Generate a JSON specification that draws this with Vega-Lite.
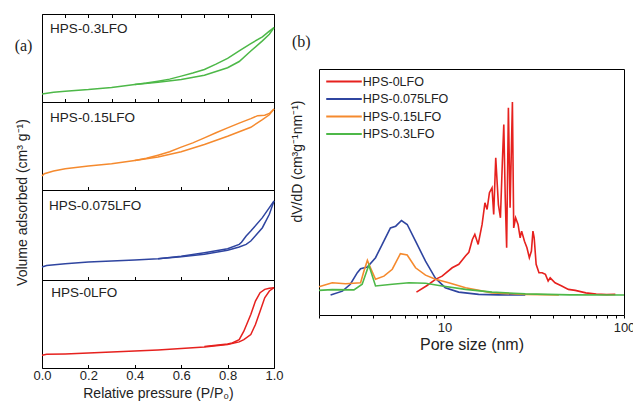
{
  "$schema": "https://vega.github.io/schema/vega-lite/v6.json",
  "padding": {"left": 13, "top": 13, "right": 5, "bottom": 0},
  "spacing": 5,
  "resolve": {"scale": {"color": "independent"}, "legend": {"color": "independent"}},
  "config": {
    "view": {"stroke": "black", "strokeWidth": 1},
    "font": "Liberation Sans",
    "axis": {"labelFont": "Liberation Sans", "titleFont": "Liberation Sans", "labelColor": "#222", "titleColor": "#222", "titleFontWeight": "normal", "tickColor": "black", "grid": false, "domain": false, "labelFlush": false}
  },
  "datasets": {
    "iso": [
      {"sample": "HPS-0.3LFO", "branch": "ads", "p": 0, "v": 9.2},
      {"sample": "HPS-0.3LFO", "branch": "ads", "p": 0.05, "v": 11},
      {"sample": "HPS-0.3LFO", "branch": "ads", "p": 0.1, "v": 12.3},
      {"sample": "HPS-0.3LFO", "branch": "ads", "p": 0.2, "v": 14.1},
      {"sample": "HPS-0.3LFO", "branch": "ads", "p": 0.3, "v": 16.5},
      {"sample": "HPS-0.3LFO", "branch": "ads", "p": 0.4, "v": 19.8},
      {"sample": "HPS-0.3LFO", "branch": "ads", "p": 0.5, "v": 22.5},
      {"sample": "HPS-0.3LFO", "branch": "ads", "p": 0.6, "v": 25.6},
      {"sample": "HPS-0.3LFO", "branch": "ads", "p": 0.7, "v": 30.5},
      {"sample": "HPS-0.3LFO", "branch": "ads", "p": 0.8, "v": 38.9},
      {"sample": "HPS-0.3LFO", "branch": "ads", "p": 0.85, "v": 46},
      {"sample": "HPS-0.3LFO", "branch": "ads", "p": 0.9, "v": 58},
      {"sample": "HPS-0.3LFO", "branch": "ads", "p": 0.95, "v": 69.5},
      {"sample": "HPS-0.3LFO", "branch": "ads", "p": 0.98, "v": 77},
      {"sample": "HPS-0.3LFO", "branch": "ads", "p": 1.0, "v": 84.7},
      {"sample": "HPS-0.3LFO", "branch": "des", "p": 0.4, "v": 19.8},
      {"sample": "HPS-0.3LFO", "branch": "des", "p": 0.45, "v": 21.5},
      {"sample": "HPS-0.3LFO", "branch": "des", "p": 0.5, "v": 23.7},
      {"sample": "HPS-0.3LFO", "branch": "des", "p": 0.55, "v": 26},
      {"sample": "HPS-0.3LFO", "branch": "des", "p": 0.6, "v": 29.4},
      {"sample": "HPS-0.3LFO", "branch": "des", "p": 0.65, "v": 33},
      {"sample": "HPS-0.3LFO", "branch": "des", "p": 0.7, "v": 37},
      {"sample": "HPS-0.3LFO", "branch": "des", "p": 0.75, "v": 43},
      {"sample": "HPS-0.3LFO", "branch": "des", "p": 0.8, "v": 49.6},
      {"sample": "HPS-0.3LFO", "branch": "des", "p": 0.85, "v": 58},
      {"sample": "HPS-0.3LFO", "branch": "des", "p": 0.9, "v": 66.4},
      {"sample": "HPS-0.3LFO", "branch": "des", "p": 0.95, "v": 74},
      {"sample": "HPS-0.3LFO", "branch": "des", "p": 0.98, "v": 80.5},
      {"sample": "HPS-0.3LFO", "branch": "des", "p": 1.0, "v": 84.7},

      {"sample": "HPS-0.15LFO", "branch": "ads", "p": 0, "v": 15.8},
      {"sample": "HPS-0.15LFO", "branch": "ads", "p": 0.01, "v": 18.5},
      {"sample": "HPS-0.15LFO", "branch": "ads", "p": 0.05, "v": 21.5},
      {"sample": "HPS-0.15LFO", "branch": "ads", "p": 0.1, "v": 24.2},
      {"sample": "HPS-0.15LFO", "branch": "ads", "p": 0.2, "v": 27.2},
      {"sample": "HPS-0.15LFO", "branch": "ads", "p": 0.3, "v": 29.8},
      {"sample": "HPS-0.15LFO", "branch": "ads", "p": 0.4, "v": 33.6},
      {"sample": "HPS-0.15LFO", "branch": "ads", "p": 0.5, "v": 37.4},
      {"sample": "HPS-0.15LFO", "branch": "ads", "p": 0.6, "v": 43.4},
      {"sample": "HPS-0.15LFO", "branch": "ads", "p": 0.7, "v": 51.7},
      {"sample": "HPS-0.15LFO", "branch": "ads", "p": 0.8, "v": 61.1},
      {"sample": "HPS-0.15LFO", "branch": "ads", "p": 0.9, "v": 71.3},
      {"sample": "HPS-0.15LFO", "branch": "ads", "p": 0.95, "v": 80},
      {"sample": "HPS-0.15LFO", "branch": "ads", "p": 0.98, "v": 85.5},
      {"sample": "HPS-0.15LFO", "branch": "ads", "p": 1.0, "v": 92.1},
      {"sample": "HPS-0.15LFO", "branch": "des", "p": 0.4, "v": 33.6},
      {"sample": "HPS-0.15LFO", "branch": "des", "p": 0.45, "v": 36},
      {"sample": "HPS-0.15LFO", "branch": "des", "p": 0.5, "v": 39.6},
      {"sample": "HPS-0.15LFO", "branch": "des", "p": 0.55, "v": 43.5},
      {"sample": "HPS-0.15LFO", "branch": "des", "p": 0.6, "v": 48.7},
      {"sample": "HPS-0.15LFO", "branch": "des", "p": 0.65, "v": 53.5},
      {"sample": "HPS-0.15LFO", "branch": "des", "p": 0.7, "v": 59.2},
      {"sample": "HPS-0.15LFO", "branch": "des", "p": 0.75, "v": 65},
      {"sample": "HPS-0.15LFO", "branch": "des", "p": 0.8, "v": 70.6},
      {"sample": "HPS-0.15LFO", "branch": "des", "p": 0.85, "v": 76},
      {"sample": "HPS-0.15LFO", "branch": "des", "p": 0.9, "v": 81.1},
      {"sample": "HPS-0.15LFO", "branch": "des", "p": 0.93, "v": 84.5},
      {"sample": "HPS-0.15LFO", "branch": "des", "p": 0.96, "v": 85},
      {"sample": "HPS-0.15LFO", "branch": "des", "p": 0.98, "v": 87},
      {"sample": "HPS-0.15LFO", "branch": "des", "p": 1.0, "v": 92.1},

      {"sample": "HPS-0.075LFO", "branch": "ads", "p": 0, "v": 14.4},
      {"sample": "HPS-0.075LFO", "branch": "ads", "p": 0.02, "v": 16},
      {"sample": "HPS-0.075LFO", "branch": "ads", "p": 0.1, "v": 18.1},
      {"sample": "HPS-0.075LFO", "branch": "ads", "p": 0.2, "v": 20},
      {"sample": "HPS-0.075LFO", "branch": "ads", "p": 0.3, "v": 21.1},
      {"sample": "HPS-0.075LFO", "branch": "ads", "p": 0.4, "v": 22.2},
      {"sample": "HPS-0.075LFO", "branch": "ads", "p": 0.5, "v": 23.7},
      {"sample": "HPS-0.075LFO", "branch": "ads", "p": 0.6, "v": 25.9},
      {"sample": "HPS-0.075LFO", "branch": "ads", "p": 0.7, "v": 28.5},
      {"sample": "HPS-0.075LFO", "branch": "ads", "p": 0.8, "v": 33},
      {"sample": "HPS-0.075LFO", "branch": "ads", "p": 0.85, "v": 36.7},
      {"sample": "HPS-0.075LFO", "branch": "ads", "p": 0.88, "v": 39.6},
      {"sample": "HPS-0.075LFO", "branch": "ads", "p": 0.9, "v": 43.3},
      {"sample": "HPS-0.075LFO", "branch": "ads", "p": 0.95, "v": 58.1},
      {"sample": "HPS-0.075LFO", "branch": "ads", "p": 0.98, "v": 73},
      {"sample": "HPS-0.075LFO", "branch": "ads", "p": 1.0, "v": 87.8},
      {"sample": "HPS-0.075LFO", "branch": "des", "p": 0.5, "v": 23.7},
      {"sample": "HPS-0.075LFO", "branch": "des", "p": 0.6, "v": 26.5},
      {"sample": "HPS-0.075LFO", "branch": "des", "p": 0.7, "v": 30.4},
      {"sample": "HPS-0.075LFO", "branch": "des", "p": 0.8, "v": 34.8},
      {"sample": "HPS-0.075LFO", "branch": "des", "p": 0.85, "v": 39.6},
      {"sample": "HPS-0.075LFO", "branch": "des", "p": 0.86, "v": 42},
      {"sample": "HPS-0.075LFO", "branch": "des", "p": 0.88, "v": 48.9},
      {"sample": "HPS-0.075LFO", "branch": "des", "p": 0.9, "v": 54.4},
      {"sample": "HPS-0.075LFO", "branch": "des", "p": 0.95, "v": 69.3},
      {"sample": "HPS-0.075LFO", "branch": "des", "p": 0.98, "v": 80.4},
      {"sample": "HPS-0.075LFO", "branch": "des", "p": 1.0, "v": 87.8},

      {"sample": "HPS-0LFO", "branch": "ads", "p": 0, "v": 14.4},
      {"sample": "HPS-0LFO", "branch": "ads", "p": 0.02, "v": 15.5},
      {"sample": "HPS-0LFO", "branch": "ads", "p": 0.1, "v": 16},
      {"sample": "HPS-0LFO", "branch": "ads", "p": 0.2, "v": 17.1},
      {"sample": "HPS-0LFO", "branch": "ads", "p": 0.3, "v": 18.3},
      {"sample": "HPS-0LFO", "branch": "ads", "p": 0.4, "v": 19.4},
      {"sample": "HPS-0LFO", "branch": "ads", "p": 0.5, "v": 20.5},
      {"sample": "HPS-0LFO", "branch": "ads", "p": 0.6, "v": 22.1},
      {"sample": "HPS-0LFO", "branch": "ads", "p": 0.7, "v": 24},
      {"sample": "HPS-0LFO", "branch": "ads", "p": 0.8, "v": 26.6},
      {"sample": "HPS-0LFO", "branch": "ads", "p": 0.85, "v": 29.7},
      {"sample": "HPS-0LFO", "branch": "ads", "p": 0.87, "v": 32.3},
      {"sample": "HPS-0LFO", "branch": "ads", "p": 0.9, "v": 38},
      {"sample": "HPS-0LFO", "branch": "ads", "p": 0.92, "v": 49.4},
      {"sample": "HPS-0LFO", "branch": "ads", "p": 0.94, "v": 64.6},
      {"sample": "HPS-0LFO", "branch": "ads", "p": 0.96, "v": 79.8},
      {"sample": "HPS-0LFO", "branch": "ads", "p": 0.98, "v": 87.5},
      {"sample": "HPS-0LFO", "branch": "ads", "p": 1.0, "v": 91.3},
      {"sample": "HPS-0LFO", "branch": "des", "p": 0.7, "v": 24.5},
      {"sample": "HPS-0LFO", "branch": "des", "p": 0.8, "v": 27.4},
      {"sample": "HPS-0LFO", "branch": "des", "p": 0.82, "v": 28.5},
      {"sample": "HPS-0LFO", "branch": "des", "p": 0.85, "v": 32.3},
      {"sample": "HPS-0LFO", "branch": "des", "p": 0.87, "v": 41.8},
      {"sample": "HPS-0LFO", "branch": "des", "p": 0.9, "v": 60.8},
      {"sample": "HPS-0LFO", "branch": "des", "p": 0.92, "v": 76},
      {"sample": "HPS-0LFO", "branch": "des", "p": 0.94, "v": 85.6},
      {"sample": "HPS-0LFO", "branch": "des", "p": 0.96, "v": 89.4},
      {"sample": "HPS-0LFO", "branch": "des", "p": 0.98, "v": 90.5},
      {"sample": "HPS-0LFO", "branch": "des", "p": 1.0, "v": 91.3}
    ],
    "psd": [
      {"sample": "HPS-0LFO", "d": 6.98, "y": 9.3},
      {"sample": "HPS-0LFO", "d": 8.0, "y": 12},
      {"sample": "HPS-0LFO", "d": 8.91, "y": 14.5},
      {"sample": "HPS-0LFO", "d": 9.7, "y": 15.8},
      {"sample": "HPS-0LFO", "d": 11.04, "y": 19.2},
      {"sample": "HPS-0LFO", "d": 12.02, "y": 20.6},
      {"sample": "HPS-0LFO", "d": 13.09, "y": 24},
      {"sample": "HPS-0LFO", "d": 13.67, "y": 25.5},
      {"sample": "HPS-0LFO", "d": 14.3, "y": 30.7},
      {"sample": "HPS-0LFO", "d": 14.76, "y": 32.8},
      {"sample": "HPS-0LFO", "d": 15.2, "y": 30},
      {"sample": "HPS-0LFO", "d": 15.4, "y": 28.7},
      {"sample": "HPS-0LFO", "d": 16.2, "y": 36.8},
      {"sample": "HPS-0LFO", "d": 16.8, "y": 45.6},
      {"sample": "HPS-0LFO", "d": 17.27, "y": 42.9},
      {"sample": "HPS-0LFO", "d": 17.8, "y": 49.7},
      {"sample": "HPS-0LFO", "d": 18.4, "y": 51.7},
      {"sample": "HPS-0LFO", "d": 18.8, "y": 40.9},
      {"sample": "HPS-0LFO", "d": 19.3, "y": 63.9},
      {"sample": "HPS-0LFO", "d": 19.97, "y": 44.9},
      {"sample": "HPS-0LFO", "d": 20.5, "y": 39.5},
      {"sample": "HPS-0LFO", "d": 21.0, "y": 61.8},
      {"sample": "HPS-0LFO", "d": 21.4, "y": 77.4},
      {"sample": "HPS-0LFO", "d": 21.8, "y": 47.6},
      {"sample": "HPS-0LFO", "d": 22.2, "y": 27.3},
      {"sample": "HPS-0LFO", "d": 22.7, "y": 84.2},
      {"sample": "HPS-0LFO", "d": 23.2, "y": 43.6},
      {"sample": "HPS-0LFO", "d": 23.9, "y": 86.6},
      {"sample": "HPS-0LFO", "d": 24.3, "y": 35.4},
      {"sample": "HPS-0LFO", "d": 24.9, "y": 39.5},
      {"sample": "HPS-0LFO", "d": 25.7, "y": 36.8},
      {"sample": "HPS-0LFO", "d": 26.4, "y": 31.4},
      {"sample": "HPS-0LFO", "d": 26.9, "y": 34.1},
      {"sample": "HPS-0LFO", "d": 27.9, "y": 30},
      {"sample": "HPS-0LFO", "d": 28.8, "y": 27.3},
      {"sample": "HPS-0LFO", "d": 29.7, "y": 23.3},
      {"sample": "HPS-0LFO", "d": 30.5, "y": 26},
      {"sample": "HPS-0LFO", "d": 31.1, "y": 34.1},
      {"sample": "HPS-0LFO", "d": 31.6, "y": 31.4},
      {"sample": "HPS-0LFO", "d": 32.4, "y": 20.6},
      {"sample": "HPS-0LFO", "d": 33.6, "y": 17.2},
      {"sample": "HPS-0LFO", "d": 35.0, "y": 17.2},
      {"sample": "HPS-0LFO", "d": 36.5, "y": 16.5},
      {"sample": "HPS-0LFO", "d": 37.8, "y": 13.8},
      {"sample": "HPS-0LFO", "d": 38.8, "y": 15.1},
      {"sample": "HPS-0LFO", "d": 41.3, "y": 13.1},
      {"sample": "HPS-0LFO", "d": 45.0, "y": 11.8},
      {"sample": "HPS-0LFO", "d": 49.0, "y": 10.4},
      {"sample": "HPS-0LFO", "d": 53.5, "y": 10},
      {"sample": "HPS-0LFO", "d": 61.3, "y": 9},
      {"sample": "HPS-0LFO", "d": 70, "y": 8.5},
      {"sample": "HPS-0LFO", "d": 80, "y": 8.3},
      {"sample": "HPS-0LFO", "d": 89.5, "y": 8.4},

      {"sample": "HPS-0.075LFO", "d": 2.32, "y": 8.1},
      {"sample": "HPS-0.075LFO", "d": 2.7, "y": 9.7},
      {"sample": "HPS-0.075LFO", "d": 2.99, "y": 12.5},
      {"sample": "HPS-0.075LFO", "d": 3.27, "y": 17.2},
      {"sample": "HPS-0.075LFO", "d": 3.41, "y": 18.8},
      {"sample": "HPS-0.075LFO", "d": 3.72, "y": 19.5},
      {"sample": "HPS-0.075LFO", "d": 4.13, "y": 23.3},
      {"sample": "HPS-0.075LFO", "d": 4.5, "y": 28.7},
      {"sample": "HPS-0.075LFO", "d": 5.0, "y": 35.4},
      {"sample": "HPS-0.075LFO", "d": 5.35, "y": 36.1},
      {"sample": "HPS-0.075LFO", "d": 5.76, "y": 38.4},
      {"sample": "HPS-0.075LFO", "d": 6.2, "y": 36.8},
      {"sample": "HPS-0.075LFO", "d": 6.9, "y": 30},
      {"sample": "HPS-0.075LFO", "d": 7.84, "y": 21.9},
      {"sample": "HPS-0.075LFO", "d": 8.91, "y": 14.9},
      {"sample": "HPS-0.075LFO", "d": 10.1, "y": 11.1},
      {"sample": "HPS-0.075LFO", "d": 12.0, "y": 9.3},
      {"sample": "HPS-0.075LFO", "d": 15.5, "y": 8.4},
      {"sample": "HPS-0.075LFO", "d": 20, "y": 8.2},
      {"sample": "HPS-0.075LFO", "d": 28.2, "y": 8.1},

      {"sample": "HPS-0.15LFO", "d": 2.0, "y": 11.5},
      {"sample": "HPS-0.15LFO", "d": 2.37, "y": 13.1},
      {"sample": "HPS-0.15LFO", "d": 2.81, "y": 12.7},
      {"sample": "HPS-0.15LFO", "d": 3.41, "y": 13.1},
      {"sample": "HPS-0.15LFO", "d": 3.56, "y": 17.9},
      {"sample": "HPS-0.15LFO", "d": 3.72, "y": 22.2},
      {"sample": "HPS-0.15LFO", "d": 3.87, "y": 19.2},
      {"sample": "HPS-0.15LFO", "d": 4.13, "y": 14.5},
      {"sample": "HPS-0.15LFO", "d": 4.6, "y": 15.8},
      {"sample": "HPS-0.15LFO", "d": 5.12, "y": 18.6},
      {"sample": "HPS-0.15LFO", "d": 5.68, "y": 24.9},
      {"sample": "HPS-0.15LFO", "d": 6.2, "y": 24.4},
      {"sample": "HPS-0.15LFO", "d": 6.9, "y": 19.2},
      {"sample": "HPS-0.15LFO", "d": 7.84, "y": 16.2},
      {"sample": "HPS-0.15LFO", "d": 8.91, "y": 14.5},
      {"sample": "HPS-0.15LFO", "d": 10.56, "y": 13.1},
      {"sample": "HPS-0.15LFO", "d": 13.1, "y": 11.1},
      {"sample": "HPS-0.15LFO", "d": 18.4, "y": 9},
      {"sample": "HPS-0.15LFO", "d": 28.2, "y": 8.4},
      {"sample": "HPS-0.15LFO", "d": 43.4, "y": 8.1},

      {"sample": "HPS-0.3LFO", "d": 2.0, "y": 10},
      {"sample": "HPS-0.3LFO", "d": 2.37, "y": 10.3},
      {"sample": "HPS-0.3LFO", "d": 3.13, "y": 10.2},
      {"sample": "HPS-0.3LFO", "d": 3.48, "y": 12.5},
      {"sample": "HPS-0.3LFO", "d": 3.79, "y": 20.3},
      {"sample": "HPS-0.3LFO", "d": 4.13, "y": 11.8},
      {"sample": "HPS-0.3LFO", "d": 5.12, "y": 12.5},
      {"sample": "HPS-0.3LFO", "d": 6.34, "y": 13.1},
      {"sample": "HPS-0.3LFO", "d": 7.84, "y": 12.9},
      {"sample": "HPS-0.3LFO", "d": 9.7, "y": 11.8},
      {"sample": "HPS-0.3LFO", "d": 13.1, "y": 10.4},
      {"sample": "HPS-0.3LFO", "d": 18.4, "y": 9.3},
      {"sample": "HPS-0.3LFO", "d": 28.2, "y": 8.6},
      {"sample": "HPS-0.3LFO", "d": 50, "y": 8.2},
      {"sample": "HPS-0.3LFO", "d": 100, "y": 8.1}
    ]
  },
  "hconcat": [
    {
      "spacing": 0,
      "bounds": "flush",
      "vconcat": [
        {
          "width": 232, "height": 88,
          "data": {"name": "iso"},
          "transform": [{"filter": "datum.sample === 'HPS-0.3LFO'"}],
          "layer": [
            {
              "mark": {"type": "line", "color": "#4db848", "strokeWidth": 1.5},
              "encoding": {
                "x": {"field": "p", "type": "quantitative", "scale": {"domain": [0, 1], "nice": false}, "axis": {"orient": "bottom", "values": [0, 0.1, 0.2, 0.3, 0.4, 0.5, 0.6, 0.7, 0.8, 0.9, 1], "labels": false, "tickSize": -3.5, "title": null}},
                "y": {"field": "v", "type": "quantitative", "scale": {"domain": [0, 100]}, "axis": {"title": "(a)", "labels": false, "ticks": false, "titleAngle": 0, "titleFont": "Liberation Serif", "titleFontSize": 16, "titleX": -19, "titleY": 31, "titleAlign": "center", "titleBaseline": "middle"}},
                "detail": {"field": "branch"}
              }
            },
            {
              "transform": [{"aggregate": [{"op": "count", "as": "n"}], "groupby": ["sample"]}],
              "mark": {"type": "text", "align": "left", "baseline": "middle", "fontSize": 13.5, "color": "#222"},
              "encoding": {
                "x": {"datum": 0.035, "type": "quantitative", "axis": {"orient": "top", "values": [0, 0.1, 0.2, 0.3, 0.4, 0.5, 0.6, 0.7, 0.8, 0.9, 1], "labels": false, "tickSize": -3.5, "title": null}},
                "y": {"datum": 83, "type": "quantitative"},
                "text": {"field": "sample"}
              }
            }
          ],
          "resolve": {"axis": {"x": "independent"}}
        },
        {
          "width": 232, "height": 88,
          "data": {"name": "iso"},
          "transform": [{"filter": "datum.sample === 'HPS-0.15LFO'"}],
          "layer": [
            {
              "mark": {"type": "line", "color": "#f58a2e", "strokeWidth": 1.5},
              "encoding": {
                "x": {"field": "p", "type": "quantitative", "scale": {"domain": [0, 1], "nice": false}, "axis": {"orient": "bottom", "values": [0, 0.1, 0.2, 0.3, 0.4, 0.5, 0.6, 0.7, 0.8, 0.9, 1], "labels": false, "tickSize": -3.5, "title": null}},
                "y": {"field": "v", "type": "quantitative", "scale": {"domain": [0, 100]}, "axis": {"title": "Volume adsorbed (cm³ g⁻¹)", "labels": false, "ticks": false, "titleFontSize": 14, "titleX": -20, "titleY": 100, "titleBaseline": "middle"}},
                "detail": {"field": "branch"}
              }
            },
            {
              "transform": [{"aggregate": [{"op": "count", "as": "n"}], "groupby": ["sample"]}],
              "mark": {"type": "text", "align": "left", "baseline": "middle", "fontSize": 13.5, "color": "#222"},
              "encoding": {
                "x": {"datum": 0.035, "type": "quantitative"},
                "y": {"datum": 81.5, "type": "quantitative"},
                "text": {"field": "sample"}
              }
            }
          ]
        },
        {
          "width": 232, "height": 90,
          "data": {"name": "iso"},
          "transform": [{"filter": "datum.sample === 'HPS-0.075LFO'"}],
          "layer": [
            {
              "mark": {"type": "line", "color": "#2f45a0", "strokeWidth": 1.5},
              "encoding": {
                "x": {"field": "p", "type": "quantitative", "scale": {"domain": [0, 1], "nice": false}, "axis": {"orient": "bottom", "values": [0, 0.1, 0.2, 0.3, 0.4, 0.5, 0.6, 0.7, 0.8, 0.9, 1], "labels": false, "tickSize": -3.5, "title": null}},
                "y": {"field": "v", "type": "quantitative", "scale": {"domain": [0, 100]}, "axis": null},
                "detail": {"field": "branch"}
              }
            },
            {
              "transform": [{"aggregate": [{"op": "count", "as": "n"}], "groupby": ["sample"]}],
              "mark": {"type": "text", "align": "left", "baseline": "middle", "fontSize": 13.5, "color": "#222"},
              "encoding": {
                "x": {"datum": 0.03, "type": "quantitative"},
                "y": {"datum": 82, "type": "quantitative"},
                "text": {"field": "sample"}
              }
            }
          ]
        },
        {
          "width": 232, "height": 88,
          "data": {"name": "iso"},
          "transform": [{"filter": "datum.sample === 'HPS-0LFO'"}],
          "layer": [
            {
              "mark": {"type": "line", "color": "#e6211e", "strokeWidth": 1.5},
              "encoding": {
                "x": {"field": "p", "type": "quantitative", "scale": {"domain": [0, 1], "nice": false}, "axis": {"orient": "bottom", "values": [0, 0.1, 0.2, 0.3, 0.4, 0.5, 0.6, 0.7, 0.8, 0.9, 1], "format": ".1f", "labelExpr": "indexof(['0.0','0.2','0.4','0.6','0.8','1.0'], datum.label) >= 0 ? datum.label : ''", "labelFontSize": 13, "labelPadding": 5, "tickSize": -3.5, "title": "Relative pressure (P/P₀)", "titleFontSize": 14, "titlePadding": 4}},
                "y": {"field": "v", "type": "quantitative", "scale": {"domain": [0, 100]}, "axis": null},
                "detail": {"field": "branch"}
              }
            },
            {
              "transform": [{"aggregate": [{"op": "count", "as": "n"}], "groupby": ["sample"]}],
              "mark": {"type": "text", "align": "left", "baseline": "middle", "fontSize": 13.5, "color": "#222"},
              "encoding": {
                "x": {"datum": 0.04, "type": "quantitative"},
                "y": {"datum": 85.6, "type": "quantitative"},
                "text": {"field": "sample"}
              }
            }
          ]
        }
      ]
    },
    {
      "spacing": 18,
      "resolve": {"scale": {"color": "independent"}, "legend": {"color": "independent"}},
      "vconcat": [
        {
          "width": 305, "height": 20,
          "view": {"stroke": null},
          "title": {"text": "(b)", "orient": "bottom", "anchor": "start", "frame": "group", "offset": 0, "dx": -27, "font": "Liberation Serif", "fontSize": 16, "fontWeight": "normal", "color": "#222"},
          "data": {"values": []},
          "mark": "point",
          "encoding": {}
        },
        {
          "width": 305, "height": 246,
          "data": {"name": "psd"},
          "mark": {"type": "line", "strokeWidth": 1.6},
          "encoding": {
            "x": {"field": "d", "type": "quantitative", "scale": {"type": "log", "domain": [2, 100], "nice": false}, "axis": {"values": [2, 3, 4, 5, 6, 7, 8, 9, 10, 20, 30, 40, 50, 60, 70, 80, 90, 100], "labelExpr": "datum.value == 10 || datum.value == 100 ? datum.label : ''", "labelFontSize": 13, "tickSize": 3, "labelPadding": 3, "title": "Pore size (nm)", "titleFontSize": 16, "titlePadding": 2}},
            "y": {"field": "y", "type": "quantitative", "scale": {"domain": [0, 100]}, "axis": {"title": "dV/dD (cm³g⁻¹nm⁻¹)", "labels": false, "ticks": false, "titleFontSize": 14, "titleY": 92, "titlePadding": 15}},
            "color": {
              "field": "sample", "type": "nominal",
              "scale": {"domain": ["HPS-0LFO", "HPS-0.075LFO", "HPS-0.15LFO", "HPS-0.3LFO"], "range": ["#e6211e", "#2f45a0", "#f58a2e", "#4db848"]},
              "legend": {"title": null, "orient": "top-left", "offset": 6, "padding": 0, "symbolType": "M-1,0L5.75,0", "symbolSize": 111, "symbolStrokeWidth": 2, "labelFontSize": 12.5, "labelFont": "Liberation Sans", "labelColor": "#222", "labelOffset": 24.8, "rowPadding": 4.5}
            }
          }
        }
      ]
    }
  ]
}
